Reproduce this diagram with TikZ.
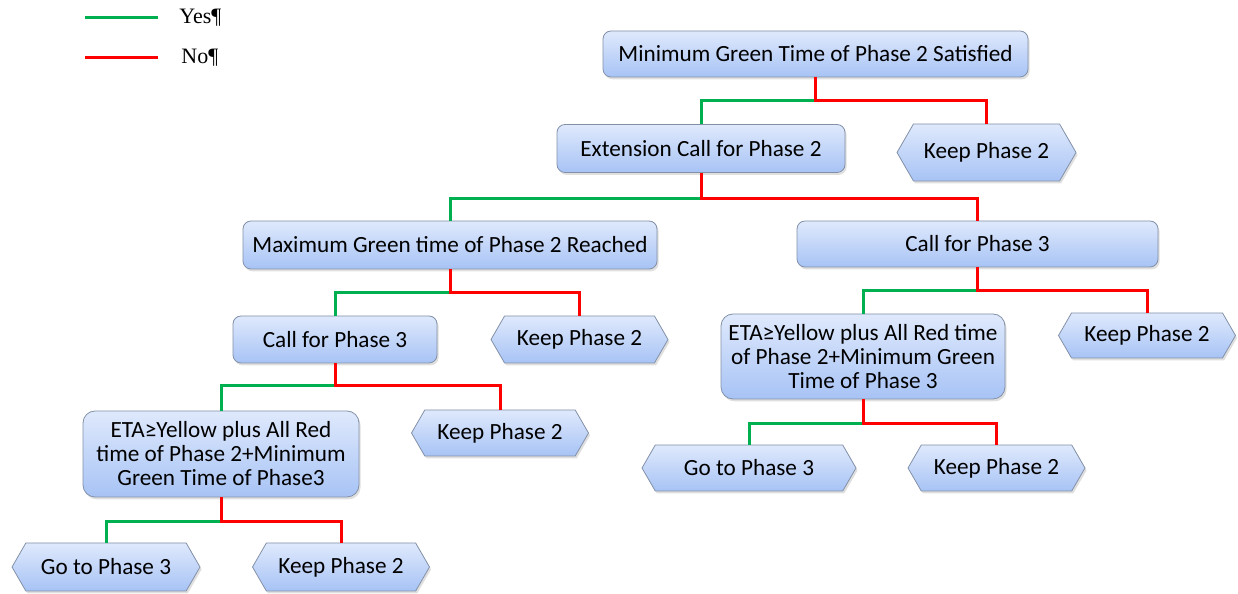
\documentclass[tikz,border=0pt]{standalone}
\usepackage{fontspec}
\setmainfont{Carlito}
\newfontfamily\legendfont{Liberation Serif}
\usetikzlibrary{shapes.symbols, shadows}
\definecolor{boxtop}{HTML}{DFE9FC}
\definecolor{boxbot}{HTML}{A7C3F5}
\definecolor{boxline}{HTML}{8391A8}
\definecolor{yesgreen}{HTML}{00B050}
\definecolor{nored}{HTML}{FF0000}

\begin{document}
\begin{tikzpicture}[x=0.5pt, y=0.5pt,
  box/.style={rectangle, rounded corners=4pt, draw=boxline, top color=boxtop, bottom color=boxbot, font=\fontsize{11.6}{12}\selectfont, align=center, inner sep=2pt, minimum height=23.5pt, drop shadow={shadow xshift=0.8pt, shadow yshift=-1.2pt, opacity=0.25}},
  etabox/.style={box, rounded corners=6pt},
  leaf/.style={signal, signal to=west and east, signal pointer angle=120, draw=boxline, top color=boxtop, bottom color=boxbot, font=\fontsize{11.6}{12}\selectfont, inner sep=2pt, minimum width=88.5pt, minimum height=23pt, drop shadow={shadow xshift=0.8pt, shadow yshift=-1.2pt, opacity=0.25}},
  yesline/.style={draw=yesgreen, line width=1.5pt},
  noline/.style={draw=nored, line width=1.5pt},
  legendtext/.style={font=\legendfont\fontsize{11}{12}\selectfont, anchor=west, inner sep=0pt},
]
\useasboundingbox (0,0) rectangle (1238,594);

% legend
\coordinate (ya) at (85,576);
\coordinate (yb) at (158,576);
\coordinate (na) at (85,536);
\coordinate (nb) at (158,536);
\draw[yesline] (ya) -- (yb);
\draw[noline] (na) -- (nb);
\node[legendtext] (yeslabel) at (179,576) {Yes¶};
\node[legendtext] (nolabel) at (181,536) {No¶};

% decisions
\node[box, minimum width=212.5pt, minimum height=23pt] (root) at (815.5,540) {Minimum Green Time of Phase 2 Satisfied};
\node[box, minimum width=144pt, minimum height=24pt] (ext) at (701,445.5) {Extension Call for Phase 2};
\node[leaf, minimum width=89.5pt, minimum height=28.5pt] (keepA) at (986.5,441.5) {Keep Phase 2};
\node[box, minimum width=207pt, minimum height=24pt] (maxg) at (450,349) {Maximum Green time of Phase 2 Reached};
\node[box, minimum width=180.5pt, minimum height=23pt] (callR) at (977.5,350) {Call for Phase 3};
\node[box, minimum width=102pt] (callL) at (335,254.5) {Call for Phase 3};
\node[leaf, minimum height=23.5pt] (keepB) at (579.5,254.5) {Keep Phase 2};
\node[etabox, minimum width=142pt, minimum height=42.5pt] (etaR) at (863,237.5) {ETA≥Yellow plus All Red time\\of Phase 2+Minimum Green\\Time of Phase 3};
\node[leaf, minimum height=22.5pt] (keepC) at (1147,258.5) {Keep Phase 2};
\node[etabox, minimum width=138pt, minimum height=43pt] (etaL) at (221,140) {ETA≥Yellow plus All Red\\time of Phase 2+Minimum\\Green Time of Phase3};
\node[leaf] (keepD) at (500,161) {Keep Phase 2};
\node[leaf, minimum width=107pt] (goR) at (749,126) {Go to Phase 3};
\node[leaf] (keepE) at (996.5,126) {Keep Phase 2};
\node[leaf, minimum width=94pt, minimum height=24pt] (goL) at (106,27) {Go to Phase 3};
\node[leaf, minimum height=24pt] (keepF) at (341,27) {Keep Phase 2};

% branches
\draw[yesline] ([yshift=-11.5pt]root.south) -| (ext.north);
\draw[noline] (root.south) -- ++(0,-23) -| (keepA.north);
\draw[yesline] ([yshift=-13pt]ext.south) -| (maxg.north);
\draw[noline] (ext.south) -- ++(0,-26) -| (callR.north);
\draw[yesline] ([yshift=-11.5pt]maxg.south) -| (callL.north);
\draw[noline] (maxg.south) -- ++(0,-23) -| (keepB.north);
\draw[yesline] ([yshift=-11.5pt]callR.south) -| (etaR.north);
\draw[noline] (callR.south) -- ++(0,-23) -| (keepC.north);
\draw[yesline] ([yshift=-11pt]callL.south) -| (etaL.north);
\draw[noline] (callL.south) -- ++(0,-22) -| (keepD.north);
\draw[yesline] ([yshift=-12pt]etaR.south) -| (goR.north);
\draw[noline] (etaR.south) -- ++(0,-24) -| (keepE.north);
\draw[yesline] ([yshift=-12pt]etaL.south) -| (goL.north);
\draw[noline] (etaL.south) -- ++(0,-24) -| (keepF.north);
\end{tikzpicture}
\end{document}
